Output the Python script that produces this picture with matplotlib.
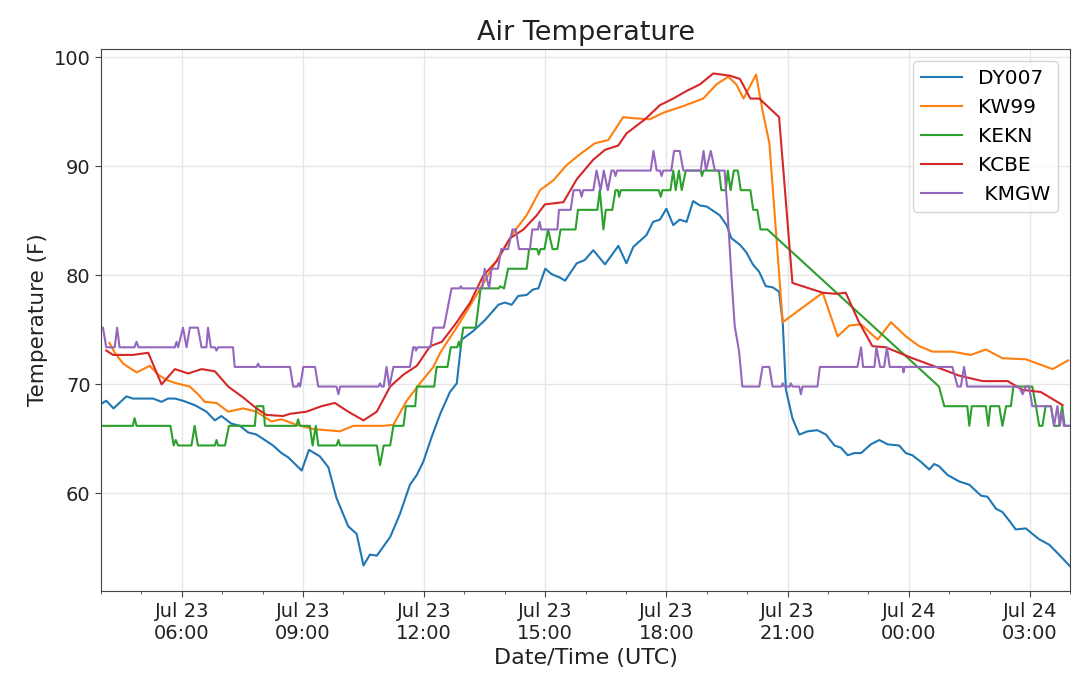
import datetime as dt
import matplotlib
matplotlib.use('Agg')
import matplotlib.pyplot as plt
import matplotlib.dates as mdates

# hours after Jul 23 00:00 UTC, temperatures in F
dy007_h = [4.0, 4.13, 4.31, 4.63, 4.79, 5.29, 5.50, 5.66, 5.83, 6.03, 6.32, 6.61, 6.82, 6.98, 7.23, 7.44,
           7.64, 7.85, 8.26, 8.47, 8.64, 8.97, 9.15, 9.42, 9.63, 9.83, 10.12, 10.33, 10.50, 10.66, 10.83,
           11.16, 11.40, 11.65, 11.82, 11.98, 12.19, 12.40, 12.64, 12.81, 12.93, 13.22, 13.51, 13.84,
           14.00, 14.17, 14.33, 14.54, 14.70, 14.83, 15.0, 15.16, 15.36, 15.49, 15.78, 15.98, 16.19,
           16.48, 16.81, 17.01, 17.18, 17.51, 17.67, 17.84, 18.0, 18.17, 18.33, 18.50, 18.66, 18.83,
           19.0, 19.16, 19.32, 19.49, 19.61, 19.82, 19.98, 20.14, 20.30, 20.46, 20.63, 20.79, 20.88,
           20.96, 21.12, 21.29, 21.50, 21.74, 21.95, 22.16, 22.32, 22.49, 22.65, 22.82, 23.06, 23.27,
           23.48, 23.76, 23.93, 24.09, 24.30, 24.51, 24.63, 24.75, 24.96, 25.25, 25.50, 25.79, 25.95,
           26.16, 26.32, 26.49, 26.65, 26.90, 27.06, 27.23, 27.48, 27.72, 28.0]
dy007_t = [68.2, 68.5, 67.8, 68.9, 68.7, 68.7, 68.4, 68.7, 68.7, 68.5, 68.1, 67.5, 66.7, 67.1, 66.4, 66.2,
           65.6, 65.4, 64.4, 63.7, 63.3, 62.1, 64.0, 63.4, 62.4, 59.6, 57.0, 56.3, 53.4, 54.4, 54.3,
           56.0, 58.1, 60.8, 61.7, 62.9, 65.2, 67.3, 69.3, 70.1, 74.1, 74.9, 75.9, 77.3,
           77.5, 77.3, 78.1, 78.2, 78.7, 78.8, 80.6, 80.1, 79.8, 79.5, 81.1, 81.4, 82.3,
           81.0, 82.7, 81.1, 82.6, 83.7, 84.9, 85.1, 86.1, 84.6, 85.1, 84.9, 86.8, 86.4,
           86.3, 85.9, 85.5, 84.6, 83.4, 82.8, 82.1, 81.0, 80.3, 79.0, 78.9, 78.5, 75.7,
           69.5, 66.9, 65.4, 65.7, 65.8, 65.4, 64.4, 64.2, 63.5, 63.7, 63.7, 64.5, 64.9,
           64.5, 64.4, 63.7, 63.5, 62.9, 62.2, 62.7, 62.5, 61.7, 61.1, 60.8, 59.8, 59.7,
           58.6, 58.3, 57.5, 56.7, 56.8, 56.3, 55.8, 55.3, 54.4, 53.3]

kw99_h = [4.21, 4.34, 4.55, 4.88, 5.21, 5.41, 5.62, 5.87, 6.20, 6.40, 6.57, 6.86, 7.15, 7.52, 7.85, 8.22,
          8.47, 8.84, 9.26, 9.59, 9.92, 10.25, 10.58, 10.99, 11.24, 11.57, 11.90, 12.23, 12.40, 12.89,
          13.38, 13.88, 14.21, 14.54, 14.87, 15.20, 15.53, 15.86, 16.23, 16.56, 16.93, 17.18, 17.59,
          17.92, 18.41, 18.91, 19.24, 19.53, 19.73, 19.91, 20.22, 20.38, 20.55, 20.88, 21.87, 22.24,
          22.53, 22.82, 23.23, 23.56, 23.93, 24.26, 24.59, 25.08, 25.54, 25.91, 26.32, 26.90, 27.56, 27.95]
kw99_t = [73.8, 72.9, 71.9, 71.1, 71.7, 70.9, 70.4, 70.1, 69.8, 69.1, 68.4, 68.3, 67.5, 67.8, 67.5, 66.6,
          66.8, 66.3, 65.9, 65.8, 65.7, 66.2, 66.2, 66.2, 66.3, 68.5, 70.1, 71.6, 72.9, 75.7,
          78.7, 81.9, 83.9, 85.5, 87.8, 88.7, 90.1, 91.1, 92.1, 92.4, 94.5, 94.4, 94.3,
          94.9, 95.5, 96.2, 97.5, 98.2, 97.5, 96.2, 98.4, 95.1, 92.1, 75.7, 78.4, 74.4,
          75.4, 75.5, 74.1, 75.7, 74.4, 73.5, 73.0, 73.0, 72.7, 73.2, 72.4, 72.3, 71.4, 72.2]

kekn_h = [4.0, 4.79, 4.83, 4.88, 5.72, 5.80, 5.85, 5.91, 6.24, 6.32, 6.40, 6.82, 6.86, 6.90, 7.07, 7.17,
          7.81, 7.85, 8.02, 8.06, 8.84, 8.88, 8.93, 9.17, 9.24, 9.32, 9.38, 9.83, 9.88, 9.92, 10.83,
          10.91, 11.00, 11.16, 11.24, 11.49, 11.55, 11.78, 11.82, 12.25, 12.31, 12.58, 12.66, 12.82,
          12.86, 12.90, 12.97, 13.28, 13.40, 13.85, 13.88, 13.98, 14.08, 14.54, 14.60, 14.80, 14.84,
          14.88, 14.98, 15.07, 15.18, 15.30, 15.38, 15.75, 15.81, 16.29, 16.35, 16.44, 16.50, 16.66,
          16.74, 16.80, 16.83, 16.87, 17.81, 17.86, 17.90, 18.10, 18.17, 18.23, 18.31, 18.38, 18.48,
          18.85, 18.88, 18.92, 19.30, 19.36, 19.47, 19.52, 19.59, 19.67, 19.77, 19.84, 20.08, 20.15,
          20.25, 20.33, 20.50, 24.75, 24.88, 25.45, 25.50, 25.56, 25.91, 25.97, 26.02, 26.24, 26.32,
          26.41, 26.53, 26.59, 27.06, 27.15, 27.23, 27.31, 27.39, 27.52, 27.60, 27.72, 27.80, 27.86, 28.0]
kekn_t = [66.2, 66.2, 66.9, 66.2, 66.2, 64.4, 64.9, 64.4, 64.4, 66.2, 64.4, 64.4, 64.9, 64.4, 64.4, 66.2,
          66.2, 68.0, 68.0, 66.2, 66.2, 66.8, 66.2, 66.2, 64.4, 66.2, 64.4, 64.4, 64.9, 64.4, 64.4,
          62.6, 64.4, 64.4, 66.2, 66.2, 68.0, 68.0, 69.8, 69.8, 71.6, 71.6, 73.4, 73.4,
          73.9, 73.4, 75.2, 75.2, 78.8, 78.8, 79.0, 78.8, 80.6, 80.6, 82.4, 82.4, 81.9,
          82.4, 82.4, 84.2, 82.4, 82.4, 84.2, 84.2, 86.0, 86.0, 87.8, 84.2, 86.0, 86.0,
          87.8, 87.8, 87.2, 87.8, 87.8, 87.2, 87.8, 87.8, 89.6, 87.8, 89.6, 87.8, 89.6,
          89.6, 89.1, 89.6, 89.6, 87.8, 87.8, 89.6, 87.8, 89.6, 89.6, 87.8, 87.8, 86.0,
          86.0, 84.2, 84.2, 69.8, 68.0, 68.0, 66.2, 68.0, 68.0, 66.2, 68.0, 68.0, 66.2,
          68.0, 68.0, 69.8, 69.8, 68.0, 66.2, 66.2, 68.0, 68.0, 66.2, 66.2, 68.0, 66.2, 66.2]

kcbe_h = [4.13, 4.30, 4.79, 5.17, 5.50, 5.83, 6.16, 6.49, 6.82, 7.15, 7.52, 7.85, 8.10, 8.51, 8.68, 9.09,
          9.46, 9.79, 10.12, 10.50, 10.83, 11.16, 11.49, 11.82, 12.15, 12.44, 12.81, 13.14, 13.47,
          13.80, 14.13, 14.46, 14.79, 14.99, 15.45, 15.78, 16.19, 16.48, 16.81, 17.01, 17.47, 17.84,
          18.17, 18.50, 18.83, 19.16, 19.57, 19.82, 20.08, 20.30, 20.79, 21.12, 21.87, 22.20, 22.44,
          22.77, 23.10, 23.43, 24.09, 24.75, 25.25, 25.83, 26.45, 26.82, 27.27, 27.81]
kcbe_t = [73.1, 72.7, 72.7, 72.9, 70.0, 71.4, 71.0, 71.4, 71.2, 69.8, 68.8, 67.8, 67.2, 67.1, 67.3, 67.5,
          68.0, 68.3, 67.5, 66.7, 67.5, 69.8, 70.9, 71.7, 73.5, 73.9, 75.7, 77.5, 80.0,
          81.3, 83.4, 84.2, 85.5, 86.5, 86.7, 88.8, 90.6, 91.5, 91.9, 93.0, 94.3, 95.6,
          96.2, 96.9, 97.5, 98.5, 98.3, 98.0, 96.2, 96.2, 94.5, 79.3, 78.4, 78.3, 78.4,
          75.7, 73.5, 73.4, 72.4, 71.5, 70.8, 70.3, 70.3, 69.5, 69.3, 68.1]

kmgw_h = [4.0, 4.05, 4.13, 4.34, 4.40, 4.46, 4.83, 4.88, 4.93, 5.83, 5.87, 5.91, 6.03, 6.12, 6.20, 6.40,
          6.49, 6.61, 6.65, 6.72, 6.82, 6.86, 6.90, 7.27, 7.31, 7.85, 7.89, 7.93, 8.68, 8.76, 8.86,
          8.89, 8.93, 9.01, 9.30, 9.38, 9.83, 9.88, 9.92, 10.87, 10.91, 10.95, 11.00, 11.07, 11.14,
          11.24, 11.65, 11.73, 11.78, 11.80, 11.84, 12.16, 12.23, 12.49, 12.68, 12.88, 12.91, 12.94,
          13.44, 13.50, 13.61, 13.67, 13.83, 13.91, 14.08, 14.19, 14.27, 14.35, 14.62, 14.68, 14.82,
          14.86, 14.90, 15.30, 15.34, 15.63, 15.70, 15.86, 15.90, 15.94, 16.19, 16.27, 16.37, 16.45,
          16.55, 16.64, 16.70, 16.74, 16.78, 17.61, 17.68, 17.76, 17.84, 17.88, 17.92, 18.12, 18.19,
          18.33, 18.42, 18.85, 18.92, 18.98, 19.10, 19.20, 19.44, 19.51, 19.61, 19.69, 19.80, 19.88,
          20.30, 20.38, 20.55, 20.63, 20.85, 20.88, 20.92, 21.05, 21.08, 21.12, 21.29, 21.33, 21.37,
          21.74, 21.80, 22.73, 22.82, 22.87, 23.15, 23.20, 23.29, 23.39, 23.46, 23.53, 23.85, 23.87,
          23.90, 25.08, 25.21, 25.29, 25.37, 25.45, 26.73, 26.82, 26.90, 26.98, 27.06, 27.52, 27.60,
          27.68, 27.74, 27.80, 27.84, 28.0]
kmgw_t = [75.2, 75.2, 73.4, 73.4, 75.2, 73.4, 73.4, 73.9, 73.4, 73.4, 73.9, 73.4, 75.2, 73.4, 75.2, 75.2,
          73.4, 73.4, 75.2, 73.4, 73.4, 73.1, 73.4, 73.4, 71.6, 71.6, 71.9, 71.6, 71.6, 69.8, 69.8,
          70.1, 69.8, 71.6, 71.6, 69.8, 69.8, 69.1, 69.8, 69.8, 70.1, 69.8, 69.8, 71.6, 69.8,
          71.6, 71.6, 73.4, 73.4, 73.1, 73.4, 73.4, 75.2, 75.2, 78.8, 78.8, 79.0, 78.8,
          78.8, 80.6, 78.8, 80.6, 80.6, 82.4, 82.4, 84.2, 84.2, 82.4, 82.4, 84.2, 84.2,
          84.9, 84.2, 84.2, 86.0, 86.0, 87.8, 87.8, 87.2, 87.8, 87.8, 89.6, 87.8, 89.6,
          87.8, 89.6, 89.6, 89.1, 89.6, 89.6, 91.4, 89.6, 89.6, 89.1, 89.6, 89.6, 91.4,
          91.4, 89.6, 89.6, 91.4, 89.6, 91.4, 89.6, 89.6, 86.1, 79.9, 75.4, 73.0, 69.8,
          69.8, 71.6, 71.6, 69.8, 69.8, 70.1, 69.8, 69.8, 70.1, 69.8, 69.8, 69.1, 69.8,
          69.8, 71.6, 71.6, 73.4, 71.6, 71.6, 73.4, 71.6, 71.6, 73.4, 71.6, 71.6, 71.1,
          71.6, 71.6, 69.8, 69.8, 71.6, 69.8, 69.8, 69.1, 69.8, 69.8, 68.0, 68.0, 66.2,
          68.0, 66.2, 67.5, 66.2, 66.2]

stations = ['DY007', 'KW99', 'KEKN', 'KCBE', ' KMGW']
series = [(dy007_h, dy007_t), (kw99_h, kw99_t), (kekn_h, kekn_t), (kcbe_h, kcbe_t), (kmgw_h, kmgw_t)]

day0 = dt.datetime(2019, 7, 23)


def to_dates(hours):
    return [day0 + dt.timedelta(hours=h) for h in hours]


fig = plt.figure(figsize=(10.8, 6.78), dpi=100)
ax = fig.add_axes([0.0935, 0.128, 0.8975, 0.8])

for name, (hrs, temps) in zip(stations, series):
    ax.plot(to_dates(hrs), temps, linewidth=1.5, label=name)

ax.set_xlim(day0 + dt.timedelta(hours=4), day0 + dt.timedelta(hours=28))
ax.xaxis.set_major_locator(mdates.HourLocator(byhour=range(0, 24, 3)))
ax.xaxis.set_minor_locator(mdates.HourLocator())
ax.xaxis.set_major_formatter(mdates.DateFormatter('%b %d\n%H:%M'))
for lbl in ax.get_xticklabels():
    lbl.set_ha('center')

for sp in ax.spines.values():
    sp.set_color('#444444')
ax.tick_params(axis='both', which='major', labelsize=14, length=4, color='#444444',
               labelcolor='#222222')
ax.tick_params(axis='x', which='minor', length=2.5, color='#444444')
ax.grid(True, which='major', color='#e6e6e6', linewidth=1)
ax.set_axisbelow(True)

ax.set_title('Air Temperature', fontsize=19.5, color='#222222')
ax.set_xlabel('Date/Time (UTC)', fontsize=16, color='#222222')
ax.set_ylabel('Temperature (F)', fontsize=15.5, color='#222222')
ax.legend(loc='upper right', fontsize=14.5, borderaxespad=0.6)

fig.savefig('out.png', dpi=100)
